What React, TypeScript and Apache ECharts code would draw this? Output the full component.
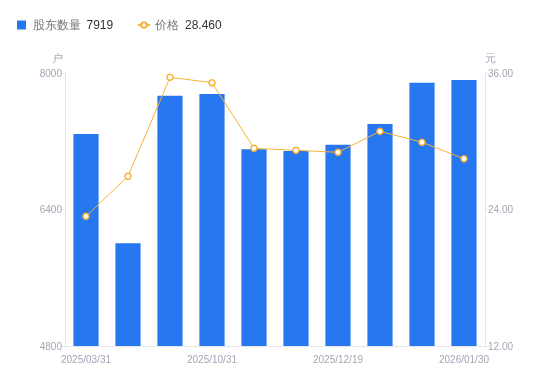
import React, { useEffect, useRef } from "react";
import * as echarts from "echarts";

const categories = [
  "2025/03/31",
  "2025/06/30",
  "2025/09/30",
  "2025/10/31",
  "2025/11/20",
  "2025/11/28",
  "2025/12/19",
  "2025/12/31",
  "2026/01/20",
  "2026/01/30",
];
const holders = [7285, 6004, 7734, 7754, 7106, 7086, 7160, 7402, 7886, 7919];
const prices = [23.4, 26.92, 35.62, 35.15, 29.38, 29.2, 29.03, 30.87, 29.91, 28.46];
const holderName = "股东数量";
const priceName = "价格";
const leftTicks = { min: 4800, max: 8000, interval: 1600 };
const rightTicks = { min: 12, max: 36, interval: 12 };

const BLUE = "#2777f1";
const ORANGE = "#f8b133";
const LABEL = "#a3a6b4";
const LINE = "#e4e6ea";

export default function App() {
  const ref = useRef<HTMLDivElement>(null);
  useEffect(() => {
    if (!ref.current) return;
    const chart = echarts.init(ref.current, undefined, { renderer: "svg" });
    const lastHolder = holders[holders.length - 1];
    const lastPrice = prices[prices.length - 1].toFixed(3);
    const legendText = {
      rich: {
        n: { color: "#777", fontSize: 12, padding: [0, 6, 0, 0] },
        v: { color: "#333", fontSize: 12 },
      },
    };
    chart.setOption({
      animation: false,
      textStyle: { fontFamily: "Liberation Sans, Arial, sans-serif" },
      legend: [
        {
          left: 12,
          top: 14,
          itemWidth: 12,
          itemHeight: 9,
          data: [{ name: holderName, icon: "path://M0,0h10v10h-10z" }],
          formatter: (name: string) => `{n|${name}}{v|${lastHolder}}`,
          textStyle: legendText,
        },
        {
          left: 132,
          top: 14,
          itemWidth: 12,
          itemHeight: 7,
          data: [{ name: priceName }],
          formatter: (name: string) => `{n|${name}}{v|${lastPrice}}`,
          textStyle: legendText,
        },
      ],
      grid: { left: 65, right: 65, top: 73, bottom: 35 },
      xAxis: {
        type: "category",
        data: categories,
        axisLine: { show: true, lineStyle: { color: LINE } },
        axisTick: { show: false },
        axisLabel: { interval: 2, color: LABEL, fontSize: 10, margin: 8 },
      },
      yAxis: [
        {
          type: "value",
          name: "户",
          nameGap: 10,
          nameTextStyle: { color: LABEL, fontSize: 11, align: "right", padding: [0, 2, 0, 0] },
          min: leftTicks.min,
          max: leftTicks.max,
          interval: leftTicks.interval,
          splitLine: { show: false },
          axisLine: { show: true, lineStyle: { color: LINE } },
          axisTick: { show: true, length: 5, lineStyle: { color: LINE } },
          axisLabel: { color: LABEL, fontSize: 10, margin: 3, formatter: (v: number) => String(v) },
        },
        {
          type: "value",
          name: "元",
          nameGap: 10,
          nameTextStyle: { color: LABEL, fontSize: 11, align: "left", padding: [0, 0, 0, 0] },
          min: rightTicks.min,
          max: rightTicks.max,
          interval: rightTicks.interval,
          splitLine: { show: false },
          axisLine: { show: true, lineStyle: { color: LINE } },
          axisTick: { show: true, length: 5, lineStyle: { color: LINE } },
          axisLabel: {
            color: LABEL,
            fontSize: 10,
            margin: 3,
            formatter: (v: number) => v.toFixed(2),
          },
        },
      ],
      series: [
        {
          name: holderName,
          type: "bar",
          data: holders,
          barWidth: "60%",
          itemStyle: { color: BLUE },
        },
        {
          name: priceName,
          type: "line",
          yAxisIndex: 1,
          data: prices,
          symbol: "circle",
          symbolSize: 6,
          itemStyle: { color: "#fff", borderColor: ORANGE, borderWidth: 1.5 },
          lineStyle: { color: ORANGE, width: 1 },
        },
      ],
    });
    return () => chart.dispose();
  }, []);
  return (
    <div
      ref={ref}
      style={{ position: "fixed", left: 0, top: 0, width: 550, height: 381 }}
    />
  );
}
